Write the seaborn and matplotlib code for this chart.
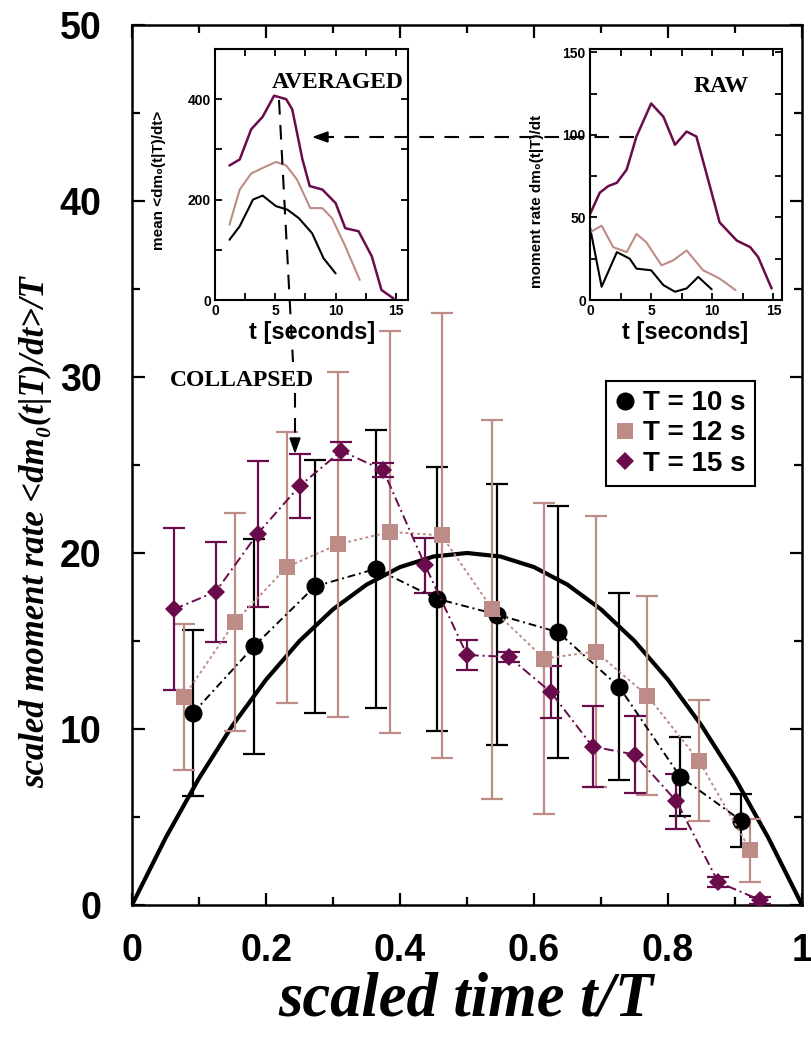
import matplotlib
matplotlib.use("Agg")
import matplotlib.pyplot as plt
import seaborn as sns
from matplotlib.lines import Line2D

# ---------------- collapsed, scaled moment-rate curves ----------------
x_T10 = [0.091, 0.182, 0.273, 0.364, 0.455, 0.545, 0.636, 0.727, 0.818, 0.909]
y_T10 = [10.9, 14.7, 18.1, 19.1, 17.4, 16.5, 15.5, 12.4, 7.3, 4.8]
e_T10 = [4.7, 6.1, 7.2, 7.9, 7.5, 7.4, 7.15, 5.3, 2.25, 1.5]

x_T12 = [0.077, 0.154, 0.231, 0.308, 0.385, 0.462, 0.538, 0.615, 0.692, 0.769, 0.846, 0.923]
y_T12 = [11.8, 16.1, 19.2, 20.5, 21.2, 21.0, 16.8, 14.0, 14.4, 11.9, 8.2, 3.1]
e_T12 = [4.15, 6.2, 7.7, 9.8, 11.4, 12.65, 10.75, 8.85, 7.7, 5.65, 3.45, 1.8]

x_T15 = [0.0625, 0.125, 0.1875, 0.25, 0.3125, 0.375, 0.4375, 0.5, 0.5625,
         0.625, 0.6875, 0.75, 0.8125, 0.875, 0.9375]
y_T15 = [16.8, 17.8, 21.1, 23.8, 25.8, 24.7, 19.3, 14.2, 14.1, 12.1, 9.0, 8.55, 5.9, 1.3, 0.28]
e_T15 = [4.6, 2.85, 4.15, 1.8, 0.5, 0.4, 1.55, 0.85, 0.3, 1.5, 2.3, 2.17, 1.57, 0.3, 0.2]

# mean-field (parabolic) shape
model_x = [0.0, 0.05, 0.1, 0.15, 0.2, 0.25, 0.3, 0.35, 0.4, 0.45, 0.5,
           0.55, 0.6, 0.65, 0.7, 0.75, 0.8, 0.85, 0.9, 0.95, 1.0]
model_y = [0.0, 3.8, 7.2, 10.2, 12.8, 15.0, 16.8, 18.2, 19.2, 19.8, 20.0,
           19.8, 19.2, 18.2, 16.8, 15.0, 12.8, 10.2, 7.2, 3.8, 0.0]

legend_labels = ["T = 10 s", "T = 12 s", "T = 15 s"]

# ---------------- averaged moment rates (inset, left) ----------------
avg15_t = [1.2, 2.05, 3.0, 3.95, 4.9, 5.9, 6.4, 7.25, 7.85, 8.9, 10.0, 10.8, 11.9, 13.0, 13.8, 14.8]
avg15_v = [268, 280, 340, 365, 407, 400, 380, 280, 227, 220, 193, 143, 137, 87, 20, 3]
avg12_t = [1.2, 2.05, 3.0, 3.95, 5.05, 5.9, 6.8, 7.9, 8.9, 9.7, 10.8, 12.0]
avg12_v = [150, 220, 252, 263, 275, 268, 240, 183, 183, 163, 107, 40]
avg10_t = [1.2, 2.05, 3.15, 3.95, 5.05, 6.0, 6.95, 8.05, 9.0, 10.0]
avg10_v = [120, 147, 200, 208, 187, 180, 163, 133, 83, 53]

# ---------------- single raw moment rates (inset, right) ----------------
raw15_t = [0.0, 0.8, 1.5, 2.2, 3.0, 3.8, 5.0, 6.0, 6.95, 7.9, 8.7, 9.8, 10.6, 12.0, 13.1, 13.75, 14.85]
raw15_v = [52, 65, 69, 71, 79, 99, 119, 111, 94, 102, 99, 69, 47, 36, 32, 26, 7]
raw12_t = [0.0, 0.95, 1.9, 3.0, 3.8, 4.6, 5.85, 6.8, 7.9, 9.25, 10.6, 11.9]
raw12_v = [41, 45, 32, 29, 40, 35, 21, 24, 30, 18, 13, 6]
raw10_t = [0.0, 0.95, 2.2, 3.25, 3.8, 5.0, 6.0, 6.95, 7.9, 8.85, 9.95]
raw10_v = [44, 8, 29, 25, 19, 18, 9, 5, 7, 14, 6.5]

BLACK = "#000000"
PINK = "#be8c87"
PURPLE = "#6a0b4c"

sns.set_theme(style="ticks")
plt.rcParams["font.family"] = ["Liberation Sans", "DejaVu Sans"]
plt.rcParams["axes.linewidth"] = 1.8
for key in ("text.color", "axes.labelcolor", "xtick.color", "ytick.color",
            "axes.edgecolor", "xtick.labelcolor", "ytick.labelcolor"):
    plt.rcParams[key] = "black"

W, H = 812, 1037
fig = plt.figure(figsize=(W / 100, H / 100), dpi=100)


def fx(px):
    return px / W


def fy(py):
    return 1 - py / H


# ---------------- main panel ----------------
ax = fig.add_axes([fx(132), fy(905), 670 / W, 880 / H])
ax.set_facecolor("white")

sns.lineplot(x=model_x, y=model_y, ax=ax, color=BLACK, lw=3.0, zorder=2)

series = [
    (x_T10, y_T10, e_T10, BLACK, "o", 13, (0, (4, 2, 1, 2))),
    (x_T12, y_T12, e_T12, PINK, "s", 11, (0, (1.5, 1.5))),
    (x_T15, y_T15, e_T15, PURPLE, "D", 9, (0, (5, 2, 1, 2))),
]
handles = []
for (xs, ys, es, col, mk, ms, ls), lab in zip(series, legend_labels):
    ax.errorbar(xs, ys, yerr=es, fmt="none", ecolor=col, elinewidth=1.6,
                capsize=8, capthick=1.6, zorder=3)
    sns.lineplot(x=xs, y=ys, ax=ax, color=col, lw=1.4, linestyle=ls,
                 marker=mk, markersize=ms, markeredgewidth=0, zorder=4)
    handles.append(Line2D([], [], color=col, marker=mk, markersize=ms,
                          markeredgewidth=0, linestyle="none", label=lab))

ax.set_xlim(0, 1)
ax.set_ylim(0, 50)
ax.set_xticks([0, 0.2, 0.4, 0.6, 0.8, 1.0])
ax.set_xticklabels(["0", "0.2", "0.4", "0.6", "0.8", "1"])
ax.set_xticks([0.1, 0.3, 0.5, 0.7, 0.9], minor=True)
ax.set_yticks([0, 10, 20, 30, 40, 50])
ax.set_yticks([5, 15, 25, 35, 45], minor=True)
ax.tick_params(which="both", direction="in", top=True, right=True, width=1.6,
               colors="black")
ax.tick_params(which="major", length=9)
ax.tick_params(which="minor", length=6)
ax.tick_params(axis="y", which="major", pad=22, labelsize=27)
ax.tick_params(axis="x", which="major", pad=20, labelsize=27)
for lbl in ax.get_xticklabels() + ax.get_yticklabels():
    lbl.set_fontweight("bold")
ax.set_xlabel("")
ax.set_ylabel("")

leg = ax.legend(handles=handles, loc="upper left", bbox_to_anchor=(0.707, 0.596),
                frameon=True, fancybox=False, framealpha=1, edgecolor="black",
                prop={"family": "Liberation Sans", "weight": "bold", "size": 20},
                handlelength=0.7, handletextpad=0.3, labelspacing=0.15,
                borderpad=0.35, borderaxespad=0, labelcolor="black")
leg.get_frame().set_linewidth(1.5)

serif = ["Liberation Serif", "DejaVu Serif"]
fig.text(fx(466), fy(1000), "scaled time t/T", ha="center", va="center",
         fontsize=45, family=serif, weight="bold", style="italic", color="black")
fig.text(fx(36), fy(532), "scaled moment rate <dm\u2080(t|T)/dt>/T", rotation=90,
         ha="center", va="center", fontsize=25, family=serif, weight="bold",
         style="italic", color="black")

# ---------------- insets ----------------
def style_inset(a, xmax, ymax, yt, ylabels):
    a.set_facecolor("white")
    for s in a.spines.values():
        s.set_linewidth(1.5)
        s.set_color("black")
    a.set_xlim(0, xmax)
    a.set_ylim(0, ymax)
    a.set_xticks([0, 2.5, 5, 7.5, 10, 12.5, 15])
    a.set_xticklabels(["0", "", "5", "", "10", "", "15"])
    a.set_yticks(yt)
    a.set_yticklabels(ylabels)
    a.tick_params(direction="in", top=True, right=True, length=5, width=1.3,
                  labelsize=10, pad=3, colors="black")
    for lbl in a.get_xticklabels() + a.get_yticklabels():
        lbl.set_fontweight("bold")
    a.set_xlabel("")
    a.set_ylabel("")


ax1 = fig.add_axes([fx(215), fy(300), 193 / W, 251 / H])
sns.lineplot(x=avg10_t, y=avg10_v, ax=ax1, color=BLACK, lw=1.5)
sns.lineplot(x=avg12_t, y=avg12_v, ax=ax1, color=PINK, lw=1.5)
sns.lineplot(x=avg15_t, y=avg15_v, ax=ax1, color=PURPLE, lw=1.8)
style_inset(ax1, 16, 500, [0, 100, 200, 300, 400], ["0", "", "200", "", "400"])

ax2 = fig.add_axes([fx(590), fy(300), 192 / W, 251 / H])
sns.lineplot(x=raw10_t, y=raw10_v, ax=ax2, color=BLACK, lw=1.5)
sns.lineplot(x=raw12_t, y=raw12_v, ax=ax2, color=PINK, lw=1.5)
sns.lineplot(x=raw15_t, y=raw15_v, ax=ax2, color=PURPLE, lw=1.8)
style_inset(ax2, 15.7, 152, [0, 25, 50, 75, 100, 125, 150],
            ["0", "", "50", "", "100", "", "150"])

fig.text(fx(312), fy(332), "t [seconds]", ha="center", va="center",
         fontsize=17, weight="bold", color="black")
fig.text(fx(685), fy(332), "t [seconds]", ha="center", va="center",
         fontsize=17, weight="bold", color="black")
fig.text(fx(159), fy(180), "mean <dm\u2080(t|T)/dt>", rotation=90, ha="center",
         va="center", fontsize=11, weight="bold", color="black")
fig.text(fx(537), fy(201), "moment rate dm\u2080(t|T)/dt", rotation=90, ha="center",
         va="center", fontsize=11, weight="bold", color="black")

fig.text(fx(338), fy(83), "AVERAGED", ha="center", va="center", fontsize=17,
         family=serif, weight="bold", zorder=12, color="black")
fig.text(fx(721), fy(87), "RAW", ha="center", va="center", fontsize=17,
         family=serif, weight="bold", zorder=12, color="black")
fig.text(fx(242), fy(381), "COLLAPSED", ha="center", va="center", fontsize=17,
         family=serif, weight="bold", zorder=12, color="black")

# ---------------- dashed guide arrows ----------------
dash = (0, (7, 5))
fig.add_artist(Line2D([fx(279), fx(293)], [fy(100), fy(362)],
                      transform=fig.transFigure, color="black", lw=1.5,
                      linestyle=dash, zorder=12))
fig.add_artist(Line2D([fx(295), fx(295)], [fy(393), fy(440)],
                      transform=fig.transFigure, color="black", lw=1.5,
                      linestyle=dash, zorder=12))
fig.add_artist(Line2D([fx(634), fx(327)], [fy(137), fy(137)],
                      transform=fig.transFigure, color="black", lw=1.5,
                      linestyle=dash, zorder=12))
fig.patches.append(plt.Polygon([[fx(295), fy(452)], [fx(290), fy(438)], [fx(300), fy(438)]],
                               closed=True, transform=fig.transFigure,
                               color="black", zorder=12))
fig.patches.append(plt.Polygon([[fx(314), fy(137)], [fx(328), fy(132)], [fx(328), fy(142)]],
                               closed=True, transform=fig.transFigure,
                               color="black", zorder=12))

fig.savefig("out.png", dpi=100, facecolor="white")
